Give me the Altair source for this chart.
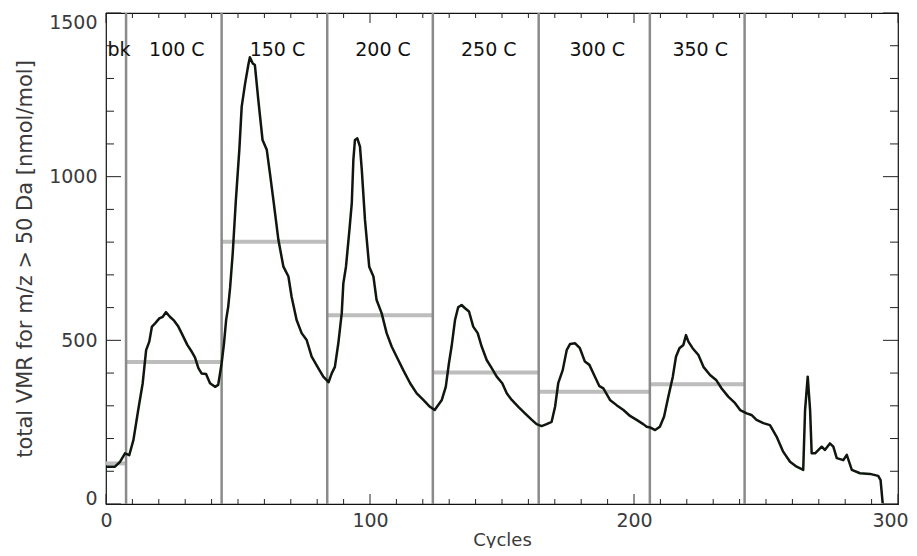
import altair as alt
import pandas as pd

# ---- data ----
cycles = [0, 3.4, 5.3, 7.2, 8.8, 10.4, 12.2, 13.9, 15.2, 16.4, 17.4, 18.6, 20.2, 21.5, 22.7,
          24.2, 25.8, 27.4, 29.0, 30.8, 32.5, 33.7, 35.0, 36.2, 37.9, 39.4, 41.3, 42.5, 43.8,
          44.7, 45.5, 46.3, 47.0, 48.0, 49.2, 50.5, 51.4, 52.7, 53.9, 54.5, 55.6, 56.4, 57.7,
          59.3, 60.9, 62.1, 63.4, 65.3, 67.2, 69.1, 70.3, 72.2, 74.1, 76.0, 77.9, 80.4, 82.3,
          84.3, 85.5, 86.7, 88.0, 89.3, 89.9, 90.9, 92.2, 93.1, 93.7, 94.3, 95.2, 96.2, 96.9,
          98.1, 99.7, 101.3, 102.5, 104.4, 106.3, 108.2, 110.1, 112.6, 115.2, 117.7, 120.2,
          122.7, 124.5, 127.2, 128.7, 129.9, 130.9, 132.2, 133.4, 134.7, 136.0, 137.5, 139.1,
          140.8, 142.3, 144.2, 146.1, 148.0, 150.1, 151.8, 153.7, 156.2, 158.7, 161.3, 163.1,
          165.0, 166.9, 168.8, 170.1, 171.3, 173.0, 174.5, 175.8, 177.7, 179.5, 181.4, 183.1,
          185.2, 186.9, 188.4, 190.9, 193.4, 196.0, 198.5, 201.0, 203.5, 204.8, 206.1, 208.0,
          209.8, 211.4, 213.0, 214.7, 215.9, 217.2, 218.7, 219.7, 220.6, 222.2, 224.4, 226.3,
          228.8, 231.1, 233.2, 235.7, 238.3, 240.2, 242.7, 244.5, 246.4, 249.0, 251.5, 254.0,
          256.5, 259.1, 261.6, 264.1, 264.8, 265.8, 266.7, 267.3, 268.6, 271.1, 272.3, 274.2,
          275.5, 276.8, 279.3, 280.6, 282.5, 285.6, 289.4, 292.5, 293.4, 294.2]
vmr = [114, 114, 129, 155, 149, 196, 287, 369, 470, 496, 542, 552, 567, 572, 586,
       572, 560, 542, 516, 486, 465, 448, 415, 399, 397, 369, 358, 364, 430,
       491, 562, 603, 660, 766, 929, 1082, 1214, 1285, 1341, 1365, 1346, 1341, 1234,
       1112, 1082, 1010, 929, 807, 725, 695, 633, 562, 522, 501, 450, 415, 389,
       372, 399, 419, 491, 583, 674, 725, 837, 919, 1051, 1112, 1117, 1092, 1020,
       868, 725, 695, 623, 583, 522, 481, 450, 409, 369, 338, 318,
       297, 287, 318, 358, 430, 481, 562, 601, 608, 598, 588, 542,
       522, 481, 440, 415, 389, 369, 338, 318, 297, 277, 257, 244,
       238, 244, 251, 297, 369, 409, 470, 489, 491, 476, 435, 425,
       389, 360, 353, 318, 302, 287, 269, 257, 244, 236, 234, 226,
       236, 267, 328, 389, 450, 476, 486, 516, 496, 476, 455, 419,
       394, 379, 353, 328, 308, 287, 277, 272, 257, 247, 241, 206,
       160, 129, 114, 104, 287, 389, 287, 155, 155, 175, 165, 185,
       175, 140, 134, 150, 104, 94, 92, 86, 73, 2]

boundaries = [7.6, 43.8, 83.8, 123.8, 163.9, 206.0, 241.9]
seg_mean = [124, 434, 801, 577, 402, 343, 366]
seg_labels = ["bk", "100 C", "150 C", "200 C", "250 C", "300 C", "350 C"]
label_level = 1387

x_major = [0, 100, 200, 300]
y_major = [0, 500, 1000, 1500]
x_minor = [v for v in range(10, 300, 10) if v % 100]
y_minor = [v for v in range(100, 1500, 100) if v % 500]

# ---- tables ----
line_df = pd.DataFrame({"cyc": cycles, "vmr": vmr})
seg_start = [0.0] + boundaries[:-1]
seg_df = pd.DataFrame({"cyc": seg_start, "cyc2": boundaries, "vmr": seg_mean,
                       "label": seg_labels})
seg_df["mid"] = (seg_df["cyc"] + seg_df["cyc2"]) / 2
seg_df["lvl"] = label_level
bnd_df = pd.DataFrame({"cyc": boundaries})
xmaj_df = pd.DataFrame({"cyc": x_major})
xmin_df = pd.DataFrame({"cyc": x_minor})
ymaj_df = pd.DataFrame({"vmr": y_major})
ymin_df = pd.DataFrame({"vmr": y_minor})

W, H = 792, 491
FONT = "DejaVu Sans"
TXT = "#3a3a3a"

xscale = alt.Scale(domain=[0, 300], nice=False, zero=False)
yscale = alt.Scale(domain=[0, 1500], nice=False, zero=False)
xaxis = alt.Axis(title="Cycles", values=x_major, ticks=False, grid=False, domain=False,
                 labelFlush=False, labelFont=FONT, labelFontSize=19, labelColor=TXT,
                 labelPadding=7,
                 labelOffset={"condition": {"test": "datum.value >= 300", "value": -8},
                              "value": 0},
                 titleFont=FONT, titleFontSize=18, titleColor=TXT,
                 titleFontWeight="normal", titlePadding=1, format="d")
yaxis = alt.Axis(title="total VMR for m/z > 50 Da [nmol/mol]", values=y_major, ticks=False,
                 grid=False, domain=False, labelFlush=False, labelFont=FONT,
                 labelFontSize=19, labelColor=TXT, labelPadding=9,
                 labelBaseline={"condition": [
                     {"test": "datum.value >= 1500", "value": "top"},
                     {"test": "datum.value <= 0", "value": "alphabetic"}],
                     "value": "middle"},
                 titleFont=FONT, titleFontSize=21, titleColor=TXT,
                 titleFontWeight="normal", titlePadding=13, format="d")

X = lambda f: alt.X(f"{f}:Q", scale=xscale, axis=xaxis)
Y = lambda f: alt.Y(f"{f}:Q", scale=yscale, axis=yaxis)

means = alt.Chart(seg_df).mark_rule(color="#bdbdbd", strokeWidth=4).encode(
    x=X("cyc"), x2="cyc2", y=Y("vmr"))
vlines = alt.Chart(bnd_df).mark_rule(color="#8a8a8a", strokeWidth=2.5).encode(
    x=X("cyc"), y=alt.value(0), y2=alt.value(H))
line = alt.Chart(line_df).mark_line(color="#0e160e", strokeWidth=2.5,
                                    strokeJoin="round").encode(x=X("cyc"), y=Y("vmr"))
labels = alt.Chart(seg_df).mark_text(font=FONT, fontSize=19, color="#111",
                                     dx=3).encode(x=X("mid"), y=Y("lvl"), text="label:N")

tick_col = "#222"
def xticks(df, ln):
    b = alt.Chart(df).mark_rule(color=tick_col, strokeWidth=1).encode(
        x=X("cyc"), y=alt.value(H), y2=alt.value(H - ln))
    t = alt.Chart(df).mark_rule(color=tick_col, strokeWidth=1).encode(
        x=X("cyc"), y=alt.value(0), y2=alt.value(ln))
    return [b, t]

def yticks(df, ln):
    l = alt.Chart(df).mark_rule(color=tick_col, strokeWidth=1).encode(
        y=Y("vmr"), x=alt.value(0), x2=alt.value(ln))
    r = alt.Chart(df).mark_rule(color=tick_col, strokeWidth=1).encode(
        y=Y("vmr"), x=alt.value(W), x2=alt.value(W - ln))
    return [l, r]

layers = [means, vlines, line, labels] + xticks(xmaj_df, 10) + xticks(xmin_df, 5) \
    + yticks(ymaj_df, 15) + yticks(ymin_df, 8)

chart = alt.layer(*layers).properties(
    width=W, height=H,
    autosize=alt.AutoSizeParams(type="none"),
    padding={"left": 98, "top": 5, "right": 10, "bottom": 44},
    background="white",
).configure_view(stroke="#111", strokeWidth=1.2)

chart.save("out.html", embed_options={"renderer": "svg", "actions": False})
